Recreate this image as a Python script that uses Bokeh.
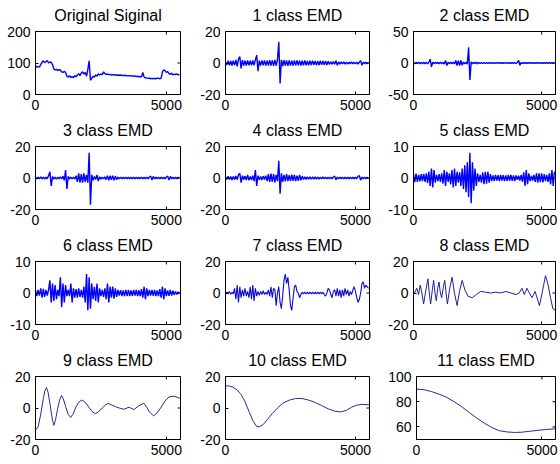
import math
from bokeh.plotting import figure
from bokeh.models import Range1d, FixedTicker
from bokeh.layouts import row, column
from bokeh.embed import file_html
from bokeh.resources import INLINE

FONT = "Liberation Sans"

# ---------------- data ----------------
titles = ["Original Siginal", "1 class EMD", "2 class EMD",
          "3 class EMD", "4 class EMD", "5 class EMD",
          "6 class EMD", "7 class EMD", "8 class EMD",
          "9 class EMD", "10 class EMD", "11 class EMD"]

y_limits = [(0, 200), (-20, 20), (-50, 50),
            (-20, 20), (-20, 20), (-10, 10),
            (-10, 10), (-20, 20), (-20, 20),
            (-20, 20), (-20, 20), (50, 100)]

y_ticks = [[0, 100, 200], [-20, 0, 20], [-50, 0, 50],
           [-20, 0, 20], [-20, 0, 20], [-10, 0, 10],
           [-10, 0, 10], [-20, 0, 20], [-20, 0, 20],
           [-20, 0, 20], [-20, 0, 20], [60, 80, 100]]

x_ticks = [0, 5000]
x_end = 5540

# sample positions for the densely read signals (every 50 samples)
sample_idx = list(range(0, 5501, 50))

original = [88, 89, 87, 88, 95, 103, 107, 101, 104, 108,
            100, 103, 102, 95, 82, 78, 80, 76, 79, 77,
            72, 70, 74, 70, 58, 55, 60, 54, 57, 53,
            60, 56, 62, 66, 60, 68, 72, 65, 70, 58,
            80, 107, 45, 52, 58, 55, 62, 58, 66, 62,
            65, 63, 72, 66, 64, 65, 63, 64, 62, 63,
            62, 63, 61, 62, 61, 62, 60, 61, 60, 61,
            59, 60, 59, 60, 58, 59, 58, 57, 58, 56,
            57, 56, 70, 55, 53, 52, 51, 52, 50, 51,
            50, 51, 50, 52, 51, 50, 52, 72, 78, 76,
            70, 73, 66, 64, 68, 62, 65, 63, 66, 62, 64]

emd1 = [0.5, -1.2, 1.4, -1.5, 1.3, -1.6, 1.5, -1.4, 2.0, -2.2,
        2.5, 4.0, -3.5, 1.8, -1.6, 1.5, -1.7, 1.6, -1.5, 1.4,
        -1.5, 1.6, -1.4, 2.0, 5.0, -5.2, 1.5, -1.6, 1.7, -1.5,
        1.6, -1.7, 1.5, -1.6, 1.8, -1.7, 1.6, -1.8, 1.9, -1.7,
        2.2, 13.5, -13.0, 2.0, -1.9, 1.8, -1.7, 1.6, -1.8, 1.7,
        -1.6, 1.5, -1.7, 1.6, -1.5, 1.6, -1.4, 1.5, -1.6, 1.4,
        -1.5, 1.6, -1.4, 1.3, -1.5, 1.4, -1.3, 1.5, -1.2, 1.3,
        -1.4, 1.2, -1.3, 1.4, -1.2, 1.3, -1.1, 1.2, -1.3, 1.1,
        -0.9, 0.8, -0.7, 0.9, -0.8, 1.5, -1.4, 0.7, -0.8, 0.7,
        -0.6, 0.7, -0.8, 0.6, -0.7, 0.6, -0.5, 0.7, -0.6, 0.5,
        -0.6, 0.5, -0.7, 0.6, 1.5, -1.4, 0.6, -0.5, 0.6, -0.5, 0.4]

emd2 = [0.8, -1, 1, -0.9, 1, -1, 0.9, -1, 1, -1,
        1, -1.2, 1.5, 6, -6, 1.2, -1, 1, -0.9, 1,
        -1, 1, -1, 1, -1.5, 4, -4, 1.2, -1, 1,
        -1, 1.2, -1.5, 4, -4, 3.5, -4, 4, -3.5, 1.5,
        -1.2, 1.5, -2, 25, -27, 2, -1.5, 1.2, -1, 1,
        -1, 0.8, -0.9, 0.8, -0.8, 0.9, -0.8, 0.7, -0.8, 0.7,
        -0.7, 0.8, -0.7, 0.7, -0.8, 0.7, -0.7, 0.8, -0.7, 0.7,
        -0.7, 0.7, -0.8, 0.7, -0.7, 0.8, -0.7, 0.7, -0.7, 0.8,
        -0.7, 0.8, 4, -3.5, 0.8, -0.7, 0.7, -0.7, 0.6, -0.7,
        0.6, -0.7, 0.6, -0.6, 0.7, -0.6, 0.6, -0.7, 0.6, -0.6,
        0.6, -0.6, 0.7, -0.6, 0.6, -0.6, 0.7, -0.6, 0.6, -0.6, 0.5]

emd3 = [0.5, -0.6, 0.6, -0.5, 0.7, -0.6, 0.5, -0.7, 0.6, -0.5,
        1.5, 4, -5, 1, -0.8, 0.6, -0.7, 0.6, -0.5, 0.7,
        -0.6, 1.2, -1.5, 5, -7, 1, -0.7, 0.6, -0.6, 0.5,
        -0.7, 1.5, -2.5, 3, -3, 2.5, -3, 3, -2.5, 2,
        -3, 16, -17, 2, -1.5, 1, -1, 2, -2, 0.8,
        -0.7, 0.6, -0.6, 0.7, -1, 1.5, -1.5, 1.5, -1.2, 1.5,
        -1.5, 1.2, -1, 0.6, -0.5, 0.5, -0.6, 0.5, -0.5, 0.6,
        -0.5, 0.5, -0.6, 0.5, -0.5, 0.5, -0.6, 0.5, -0.5, 0.5,
        -0.5, 0.6, -0.5, 0.5, -0.6, 0.5, -0.5, 0.6, 1.2, -1.3,
        1, -0.6, 0.5, -0.5, 0.6, -0.5, 0.5, -0.6, 0.5, -0.5,
        0.6, 1.2, -1.3, 1, -0.5, 0.5, -0.6, 0.5, -0.5, 0.5, -0.4]

emd4 = [0.8, -1, 1.1, -0.9, 1, -1.2, 1, -0.9, 1.2, -1,
        2, 3, -3, 1.5, -1, 1.2, -1.3, 2, -1.5, 1,
        -1.2, 1.5, -2, 5, -5, 1.5, -1.2, 1, -1.3, 1.2,
        -1, 1.5, -2, 2.5, -2.5, 2.8, -2.5, 2.5, -2.8, 2,
        -2, 11, -10, 3, -2.5, 2, -2.2, 2.5, -2, 1.8,
        -2, 2.2, -1.8, 2, -2, 1.5, -1.8, 2, -1.5, 1.2,
        -1, 0.8, -0.9, 0.8, -0.7, 0.8, -0.8, 0.7, -0.8, 0.7,
        -0.7, 0.6, -0.7, 0.6, -0.6, 0.7, -0.6, 0.6, -0.6, 0.5,
        -0.6, 0.6, -0.5, 0.6, 1.2, -1.2, 0.6, -0.5, 0.6, -0.5,
        0.5, -0.6, 0.5, -0.5, 0.6, -0.5, 0.5, -0.6, 0.5, -0.5,
        0.6, -0.5, 1, 1.5, -1.5, 0.6, -0.5, 0.6, -0.5, 0.5, -0.4]

emd5 = [1.2, -1.3, 1.4, -1.2, 1, -1.1, 1.2, -1, 1.3, -1.2,
        1.5, -1.6, 2, -2.5, 3, -3, 2.5, -1.5, 1, -1,
        1.2, -1.2, 1.5, -1.8, 2.5, -2.5, 2, -1.2, 1.5, -2,
        2.5, -3, 3, -2.5, 2, -1.5, 1.8, -2.5, 3, -3.5,
        4, -4.5, 5, -6, 8, -8, 5, -4, 3, -2.5,
        1.5, -1.2, 1, -1.5, 1.8, -2, 2, -1.8, 2, -1.5,
        1.2, -1, 0.8, -0.9, 1, -0.8, 0.9, -1, 1, -0.8,
        0.9, -1, 0.8, -0.9, 1, -0.8, 1, -0.9, 0.8, -1,
        0.8, -0.6, 0.7, -0.8, 1, -1.2, 1.8, -2.5, 2.5, -2,
        1.5, -1, 0.7, -0.8, 1, -1.2, 1.5, -1.5, 1.5, -1.3,
        1.5, -1.4, 1.2, -1, 1, -1.2, 1.5, -2, 2.5, -2.5, 2]

emd6 = [0.8, -1, 1, -0.8, 1.5, -1.5, 1.3, -1.2, 1, -0.8,
        1, 4, -3, 3, -2.5, 2.5, -2, 1, -1, 5,
        -4.5, 3, -3, 2.5, -1, 1, -1, 3, -3, 1.5,
        -1.5, 1.2, -1.5, 1.5, -1.2, 1, -1.5, 2, -3, 6,
        -5.5, 5, -5, 3, -2, 2, -2.5, 3, -3, 1.5,
        -1, 1, -1.2, 1.5, -2, 3, -3, 2, -1.5, 2,
        -1.8, 1.5, -1.2, 1, -0.8, 0.9, -1, 0.8, -1, 1,
        -0.9, 1, -1, 0.8, -0.9, 1, -0.8, 1, -1, 0.9,
        -1, 1.2, -1.5, 2, -2, 1.5, -1, 1, -0.8, 1,
        -0.9, 1, -1, 0.8, -1, 1.2, -1.5, 2, -2, 1.5,
        -1, 0.8, -0.9, 1, -0.8, 0.7, -0.6, 0.5, -0.5, 0.4, -0.3]

emd7 = [0, 0.5, -0.5, 1, -0.8, 0.5, -0.5, 3, -4, 5,
        -6, 4, -3, 2, -2, 3, -2, 1, -3, 4,
        -4, 5, -5, 3, -2, 1, -1.5, 1, -1, 1.5,
        -1, 0.5, -1, 2, -2, 4, -3, 3, 2, -8,
        0, 4, -6, -10, -2, 8, 12, 6, 10, 2,
        -8, -11, -3, 4, 5, 1, 0, -3, -1, 0.5,
        -0.5, 0.5, -0.5, 0.5, -0.5, 0.5, -0.5, 0.5, -0.5, 0.5,
        -0.5, 0.5, -0.5, 0.5, -0.5, 0.5, -1, -2, 0, 3,
        2, -1, -3, 1, 2, -2, 3, -2, 2, -3,
        2, -2, 3, -1, 2, -2, 1, -1, 2, 4,
        1, -3, -6, -4, 0, 6, 7, 3, 5, 4, 3]

emd8_x = [0, 40, 130, 196, 262, 327, 393, 485, 563, 616, 668, 734, 786,
          838, 891, 943, 996, 1048, 1100, 1166, 1218, 1270, 1323, 1414,
          1506, 1598, 1703, 1794, 1899, 2004, 2122, 2292, 2450, 2620,
          2817, 3013, 3210, 3406, 3603, 3799, 3996, 4127, 4231, 4323,
          4428, 4520, 4625, 4743, 4913, 5018, 5149, 5240, 5345, 5437, 5540]
emd8 = [1, 0, 3, -1, 5, 0, -7, 2, 9, 0, -7, 2, 8,
        0, -5, 3, 7, 0, -3, 4, 8, 0, -7, 3,
        10, 0, -8, 1, 8, 2, -2, -3, -1, 1,
        0.5, 0, 0.5, 0, 1, 0, -1, 0, 3, -1,
        3, 0, -3, 1, -8, 0, 11, 6, -3, -10, -11]

emd9_x = [0, 100, 200, 300, 360, 420, 480, 560, 640, 700, 760, 840, 920,
          995, 1060, 1150, 1250, 1340, 1430, 1530, 1640, 1760, 1880, 2040,
          2180, 2290, 2400, 2550, 2680, 2780, 2900, 3060, 3200, 3380, 3570,
          3760, 3950, 4140, 4250, 4350, 4520, 4650, 4780, 4950, 5100, 5290,
          5420, 5540]
emd9 = [-14, -12, -4, 6, 11, 13, 10, 2, -7, -11, -8, -1, 5,
        8, 6, 1, -4, -6, -4, 0, 3.5, 5, 4, 0.5,
        -2.5, -3.5, -2.5, 0, 2, 3, 2, 0.8, 0, -0.8, 0.5,
        -1, 1.5, 3, 0.5, -2.5, -5, -3, 0, 4.5, 7, 7.5,
        6.8, 6]

emd10_x = [0, 150, 300, 450, 600, 750, 900, 1050, 1185, 1300, 1450, 1600,
           1800, 2000, 2200, 2450, 2700, 2950, 3200, 3450, 3700, 3950,
           4200, 4430, 4650, 4850, 5050, 5250, 5540]
emd10 = [14, 14, 13, 11.5, 8.5, 4, -2, -8, -11.5, -12, -10.5, -7.5,
         -3.5, 0, 3, 5, 6, 6, 5, 3.5, 1.5, -0.5,
         -2, -2.5, -1.5, 0.5, 1.8, 2.3, 2]

emd11_x = [0, 300, 600, 900, 1200, 1500, 1800, 2100, 2400, 2700, 3000,
           3300, 3600, 3900, 4200, 4500, 4800, 5100, 5400, 5540]
emd11 = [90, 89.5, 88, 86, 83.5, 80, 76, 71.5, 67, 63, 59.5,
         57, 56, 55.6, 55.8, 56.5, 57.2, 57.8, 58.3, 58.5]

series_x = [sample_idx] * 8 + [emd8_x, emd9_x, emd10_x, emd11_x]
series_y = [original, emd1, emd2, emd3, emd4, emd5, emd6, emd7,
            emd8, emd9, emd10, emd11]
line_colors = ["#0000ff"] * 7 + ["#0a0ad0", "#20209e", "#2a2a92", "#2a2a92", "#2a2a92"]
line_widths = [1.4] * 7 + [1.1, 1, 1, 1, 1]

# ---------------- layout ----------------
col_width = [197, 188, 173]
col_left = [35, 27, 27]
col_right = [17, 16, 3]
FRAME_H = 63
TOP = 31
BOTTOM = 21
BOTTOM_LAST = 24


def make_panel(k):
    r, c = divmod(k, 3)
    bottom = BOTTOM_LAST if r == 3 else BOTTOM
    height = TOP + FRAME_H + bottom
    lo, hi = y_limits[k]
    p = figure(width=col_width[c], height=height,
               x_range=Range1d(0, x_end), y_range=Range1d(lo, hi),
               output_backend="svg", toolbar_location=None,
               min_border_left=col_left[c], min_border_right=col_right[c],
               min_border_top=TOP, min_border_bottom=bottom,
               title=titles[k])
    p.title.align = "center"
    p.title.vertical_align = "top"
    p.title.text_font = FONT
    p.title.text_font_size = "16px"
    p.title.text_font_style = "normal"
    p.title.text_color = "black"
    p.title.standoff = 11
    p.background_fill_color = "white"
    p.border_fill_color = "white"
    p.outline_line_color = "black"
    p.outline_line_width = 1
    p.grid.visible = False

    xt = FixedTicker(ticks=x_ticks, minor_ticks=[])
    yt = FixedTicker(ticks=y_ticks[k], minor_ticks=[])
    p.xaxis.ticker = xt
    p.yaxis.ticker = yt
    for ax in (p.xaxis[0], p.yaxis[0]):
        ax.major_tick_in = 3
        ax.major_tick_out = 0
        ax.minor_tick_in = 0
        ax.minor_tick_out = 0
        ax.axis_line_color = "black"
        ax.major_tick_line_color = "black"
        ax.major_label_text_font = FONT
        ax.major_label_text_font_size = "14px"
        ax.major_label_text_color = "black"
    p.xaxis.major_label_standoff = 5
    p.yaxis.major_label_standoff = 5
    # plain hyphen-minus labels, as in the original figure
    p.xaxis.major_label_overrides = {t: str(t) for t in x_ticks}
    p.yaxis.major_label_overrides = {t: str(t) for t in y_ticks[k]}

    p.line(series_x[k], series_y[k], line_color=line_colors[k],
           line_width=line_widths[k])

    # inward tick marks on the top and right edges of the box
    p.scatter(x_ticks, [hi] * len(x_ticks), marker="dash", angle=math.pi / 2,
              size=6, line_color="black", line_width=1)
    p.scatter([x_end] * len(y_ticks[k]), y_ticks[k], marker="dash",
              size=6, line_color="black", line_width=1)
    return p


panels = [make_panel(k) for k in range(12)]
layout = column([row(panels[3 * r:3 * r + 3], spacing=0) for r in range(4)], spacing=0)

open("out.html", "w").write(file_html(layout, INLINE))
